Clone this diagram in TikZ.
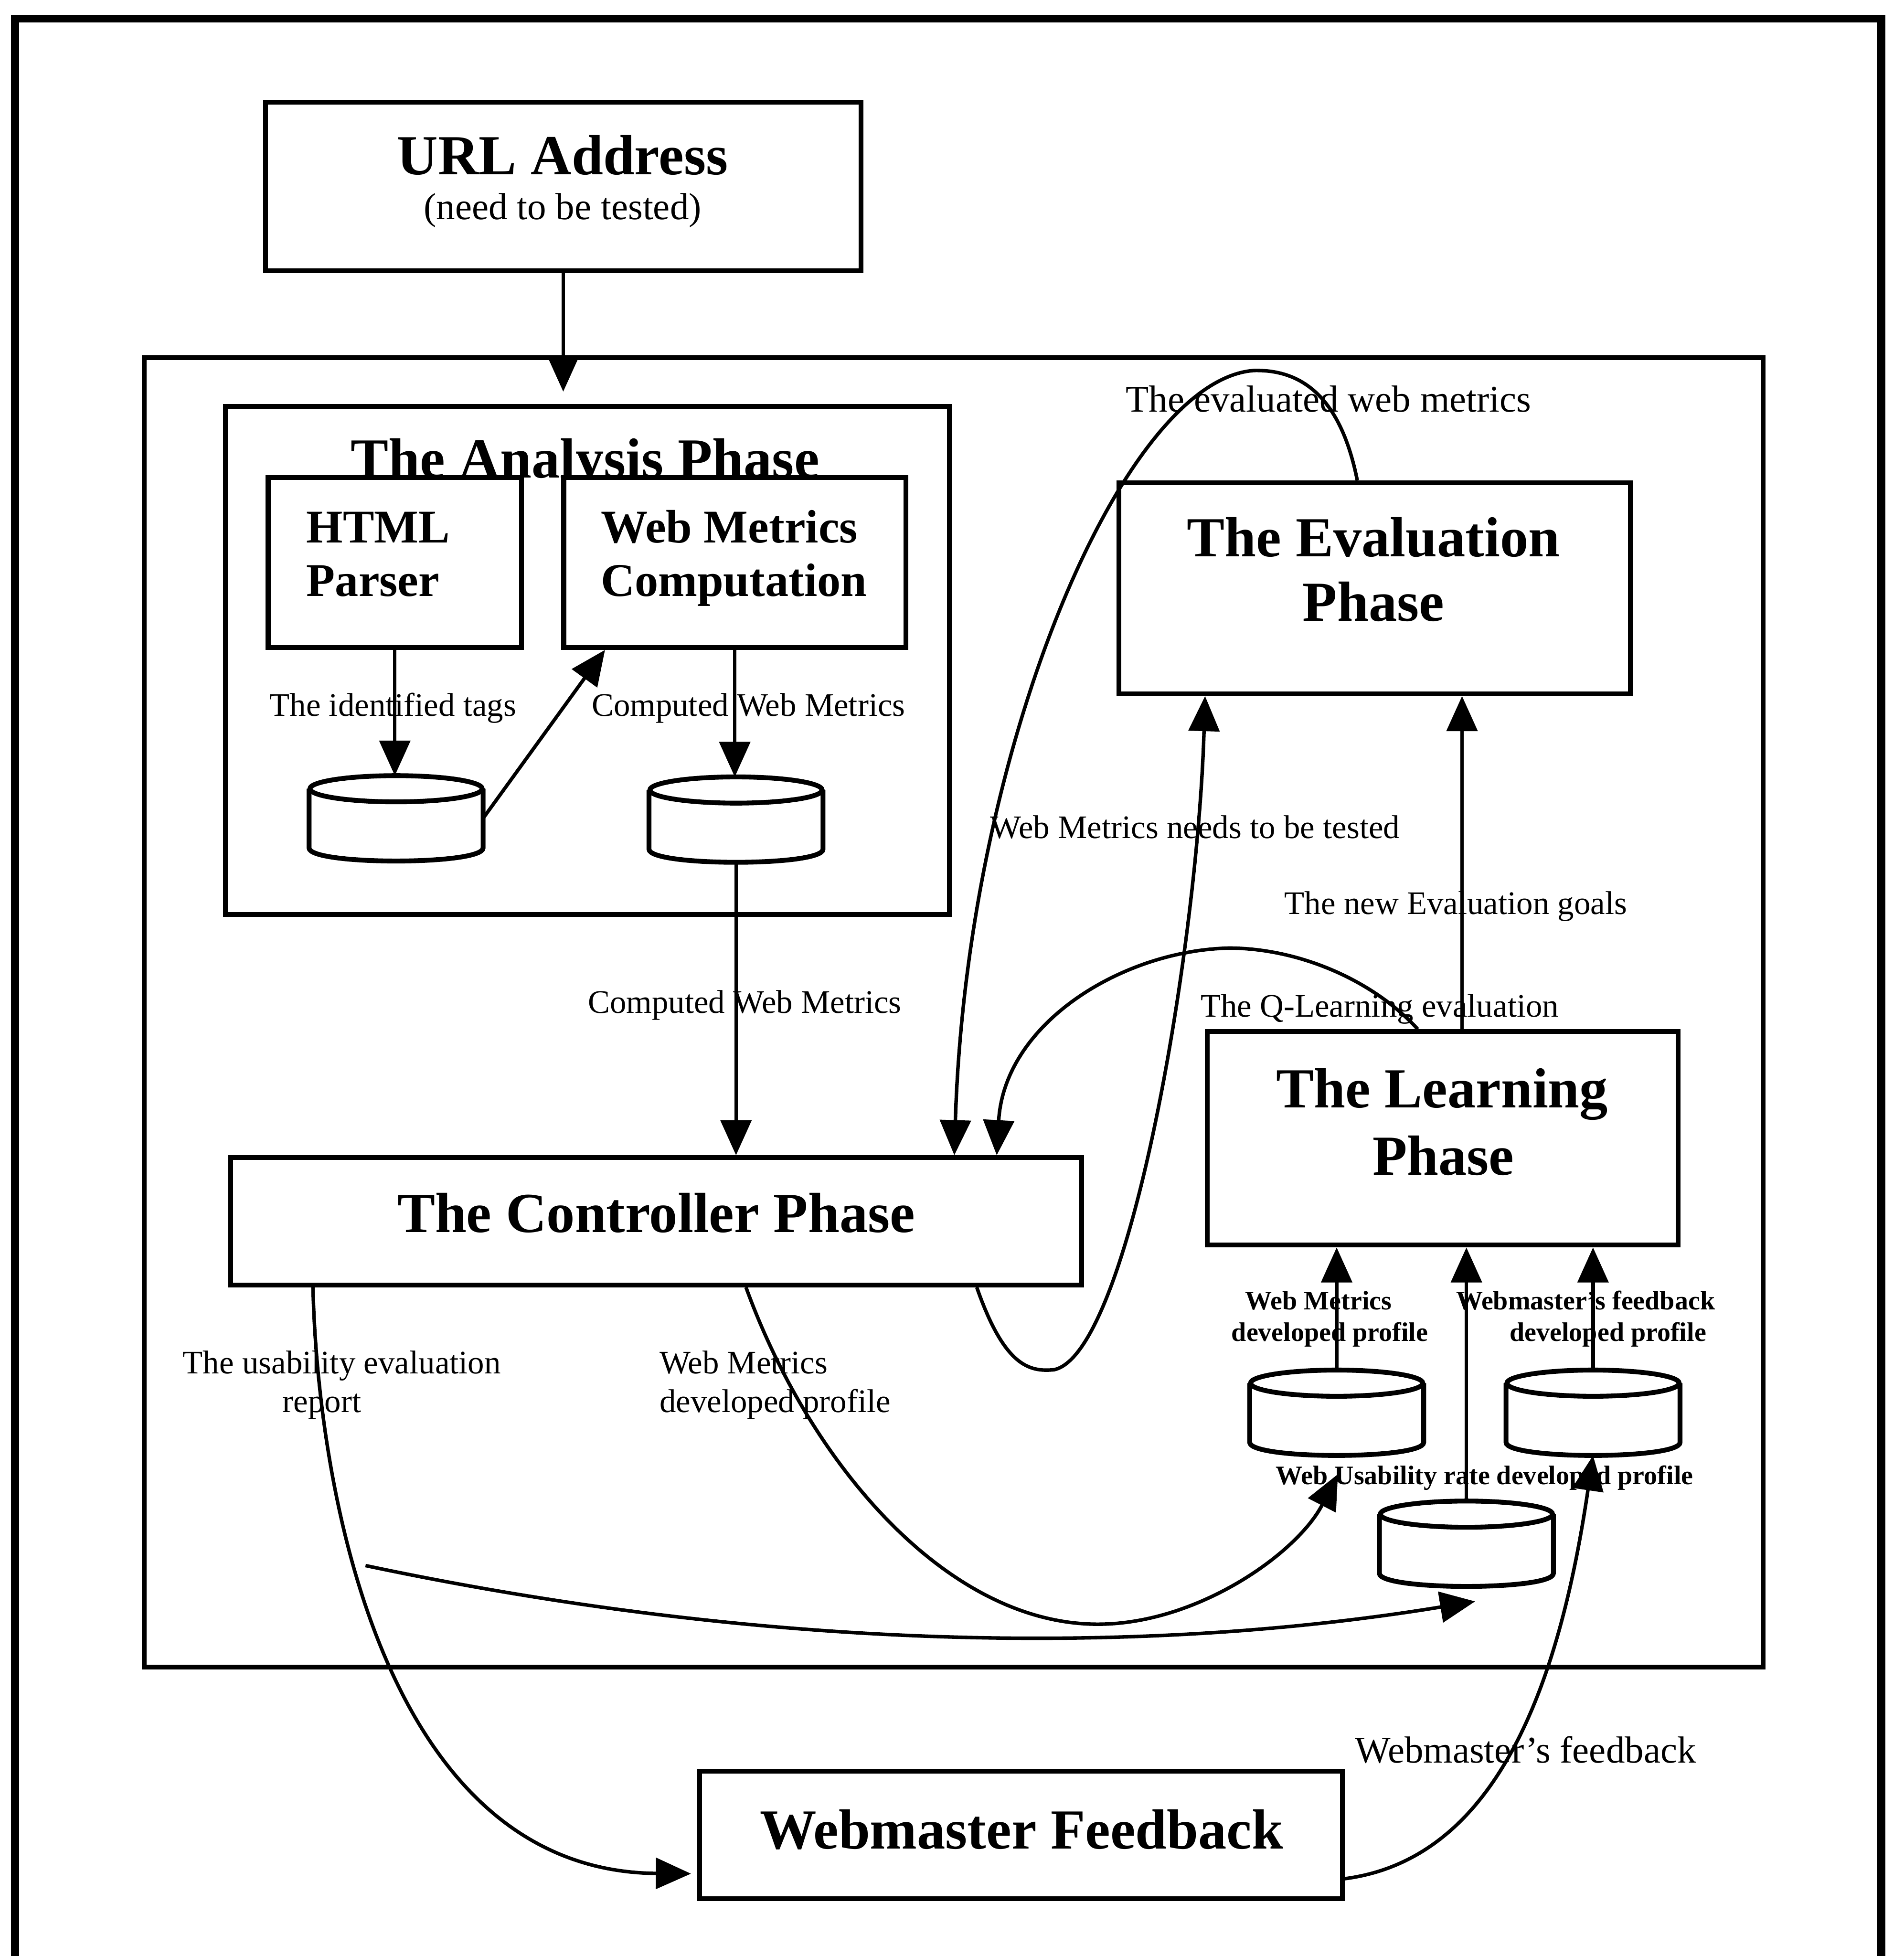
\documentclass[tikz,border=0pt]{standalone}
\usepackage{fontspec}
\setmainfont{Liberation Serif}
\usetikzlibrary{arrows.meta,calc}
\begin{document}
\begin{tikzpicture}[x=0.01cm,y=-0.01cm,
  box/.style={draw,line width=1.1pt,fill=white,inner sep=0pt},
  conn/.style={line width=0.8pt},
  arr/.style={conn,-{Triangle[length=8pt,width=7pt]}},
  cylnode/.style={inner sep=0pt,minimum width=1.38cm,minimum height=0.67cm},
  cylline/.style={line width=1.1pt},
  big/.style={font=\fontsize{12.9}{15}\selectfont\bfseries,inner sep=0pt,anchor=base},
  mid/.style={font=\fontsize{10.7}{13}\selectfont\bfseries,inner sep=0pt,anchor=base west},
  lab/.style={font=\fontsize{7.5}{9}\selectfont,inner sep=0pt,anchor=base},
  lablarge/.style={font=\fontsize{8.6}{10}\selectfont,inner sep=0pt,anchor=base},
  small/.style={font=\fontsize{6.1}{7}\selectfont\bfseries,inner sep=0pt,anchor=base},
]
\useasboundingbox (0,0) rectangle (1526,1568);

% outer frame
\draw[line width=1.8pt] (12,1590) -- (12,15) -- (1508,15) -- (1508,1590);

% system box
\node[draw,line width=1.1pt,inner sep=0pt,minimum width=12.97cm,minimum height=10.49cm] (sys) at (764.5,811.5) {};

% URL box
\node[box,minimum width=4.77cm,minimum height=1.35cm] (url) at (451.5,149.5) {};
\node[big] (urlT) at (451,140) {URL Address};
\node[lablarge] (urlS) at (451,176) {(need to be tested)};

% analysis phase
\node[box,minimum width=5.8cm,minimum height=4.07cm] (ana) at (471,529.5) {};
\node[big] (anaT) at (469,383) {The Analysis Phase};
\node[box,minimum width=2.03cm,minimum height=1.36cm] (html) at (316.5,451) {};
\node[mid] (htmlT1) at (245,435) {HTML};
\node[mid] (htmlT2) at (245,478) {Parser};
\node[box,minimum width=2.74cm,minimum height=1.36cm] (wmc) at (589,451) {};
\node[mid] (wmcT1) at (481,435) {Web Metrics};
\node[mid] (wmcT2) at (481,478) {Computation};

% evaluation
\node[box,minimum width=4.1cm,minimum height=1.69cm] (eval) at (1102,471.5) {};
\node[big] (evalT1) at (1101,446) {The Evaluation};
\node[big] (evalT2) at (1101,498) {Phase};

% learning
\node[box,minimum width=3.77cm,minimum height=1.71cm] (learn) at (1156.5,912.5) {};
\node[big] (learnT1) at (1156,888) {The Learning};
\node[big] (learnT2) at (1157,942) {Phase};

% controller
\node[box,minimum width=6.82cm,minimum height=1.02cm] (ctrl) at (526,979) {};
\node[big] (ctrlT) at (526,988) {The Controller Phase};

% webmaster feedback
\node[box,minimum width=5.15cm,minimum height=1.02cm] (wf) at (818.5,1471) {};
\node[big] (wfT) at (819,1482) {Webmaster Feedback};

% cylinders
\node[cylnode] (c1) at (317.5,656) {};
\node[cylnode] (c2) at (590,657) {};
\node[cylnode] (ca) at (1071.5,1132.5) {};
\node[cylnode] (cb) at (1277,1132.5) {};
\node[cylnode] (cc) at (1175.5,1237.5) {};
\foreach \n in {c1,c2,ca,cb,cc}{
  \draw[cylline] ($(\n.north west)+(0,10.5)$) -- ($(\n.south west)+(0,-10.5)$)
     .. controls +(0,14) and +(0,14) .. ($(\n.south east)+(0,-10.5)$)
     -- ($(\n.north east)+(0,10.5)$);
  \draw[cylline] ($(\n.north)+(0,10.5)$) ellipse [x radius=0.69cm, y radius=0.105cm];
}

% connectors
\draw[arr] (url.south) -- ([yshift=0.1cm]url.south |- ana.north);
\draw[arr] (html.south) -- (html.south |- c1.north);
\draw[arr] (c1.east) -- ($(wmc.south west)+(35,0)$);
\draw[arr] (wmc.south) -- (wmc.south |- c2.north);
\draw[arr] (c2.south) -- (c2.south |- ctrl.north);
\draw[arr] ($(eval.north)+(-14,0)$) .. controls (1075,320) and (1045,296) .. (1005,297)
   .. controls (900,305) and (775,600) .. ($(ctrl.north)+(239,0)$);
\draw[arr] ($(learn.north)+(-20,0)$) .. controls (1100,785) and (1040,760) .. (985,760)
   .. controls (900,762) and (805,820) .. ($(ctrl.north)+(273,0)$);
\draw[arr] ($(ctrl.south)+(257,0)$) .. controls (805,1095) and (825,1100) .. (845,1098)
   .. controls (905,1085) and (960,760) .. ($(eval.south)+(-136,0)$);
\draw[arr] ($(learn.north)+(15.5,0)$) -- ($(eval.south)+(70,0)$);
\draw[arr] (ca.north) -- (ca.north |- learn.south);
\draw[arr] (cc.north) -- (cc.north |- learn.south);
\draw[arr] (cb.north) -- (cb.north |- learn.south);
\draw[arr] ($(ctrl.south west)+(68,0)$) .. controls (255,1200) and (310,1500) .. ($(wf.west)+(-5,31)$);
\draw[arr] ($(ctrl.south)+(72,0)$) .. controls (650,1175) and (760,1302) .. (880,1302)
   .. controls (960,1302) and (1040,1245) .. ($(ca.south)+(1,15)$);
\coordinate (ustart) at (293,1255);
\draw[arr] (ustart) .. controls (600,1320) and (900,1330) .. ($(cc.south)+(7,12)$);
\draw[arr] ($(wf.east)+(0,35)$) .. controls (1200,1490) and (1250,1350) .. (cb.south);

% labels
\node[lab] (l1) at (315,574) {The identified tags};
\node[lab] (l2) at (600,574) {Computed Web Metrics};
\node[lab] (l3) at (597,812) {Computed Web Metrics};
\node[lablarge] (l4) at (1065,330) {The evaluated web metrics};
\node[lab] (l5) at (958,672) {Web Metrics needs to be tested};
\node[lab] (l6) at (1167,733) {The new Evaluation goals};
\node[lab] (l7) at (1106,815) {The Q-Learning evaluation};
\node[lab] (l8) at (274,1101) {The usability evaluation};
\node[lab] (l9) at (258,1132) {report};
\node[lab,anchor=base west] (l10) at (528,1101) {Web Metrics};
\node[lab,anchor=base west] (l11) at (528,1132) {developed profile};
\node[small] (l12) at (1057,1050) {Web Metrics};
\node[small] (l13) at (1066,1075) {developed profile};
\node[small] (l14) at (1271,1050) {Webmaster's feedback};
\node[small] (l15) at (1289,1075) {developed profile};
\node[small] (l16) at (1190,1190) {Web Usability rate developed profile};
\node[lablarge] (l17) at (1223,1413) {Webmaster's feedback};
\end{tikzpicture}
\end{document}
